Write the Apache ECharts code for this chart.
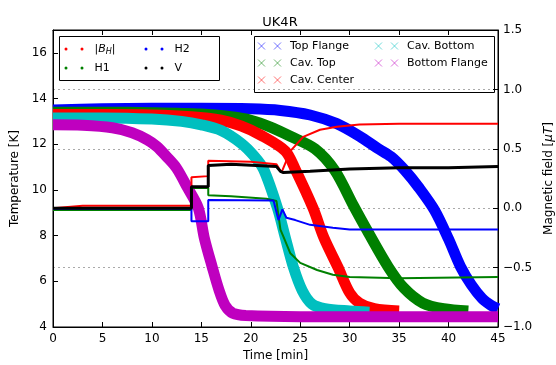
<!DOCTYPE html>
<html>
<head>
<meta charset="utf-8">
<script src="https://cdn.jsdelivr.net/npm/echarts@6/dist/echarts.min.js"></script>
<style>
html,body{margin:0;padding:0;background:#fff}
#main{width:556px;height:365px}
</style>
</head>
<body>
<div id="main"></div>
<script>
// temperatures [K], left axis: time [min] and value per sensor
var tTopFlange = [0, 5, 10, 15, 20, 23, 26, 28.7, 31, 32.8, 34.2, 35.6, 37, 38.6, 40, 41.2, 42.3, 43.4, 44.3, 45];
var topFlange  = [13.5, 13.55, 13.57, 13.57, 13.55, 13.48, 13.28, 12.9, 12.35, 11.83, 11.45, 10.85, 10.1, 9.1, 7.85, 6.65, 5.85, 5.25, 4.95, 4.8];
var tCavTop = [0, 5, 10, 15, 18, 20, 22, 24, 26.5, 28.5, 30.4, 31.8, 33.9, 35.5, 37.4, 39.5, 42];
var cavTop  = [13.4, 13.4, 13.38, 13.32, 13.2, 13.05, 12.75, 12.35, 11.8, 10.85, 9.3, 8.2, 6.63, 5.7, 5.05, 4.8, 4.7];
var tCavCenter = [0, 5, 10, 14, 17, 19, 21, 23.5, 24.5, 26.3, 27.4, 28.8, 30, 31, 32.5, 35];
var cavCenter  = [13.3, 13.3, 13.28, 13.2, 13.05, 12.8, 12.4, 11.7, 10.9, 9.2, 7.9, 6.63, 5.5, 5.05, 4.8, 4.7];
var tCavBottom = [0, 5, 10, 13, 15, 17, 19, 20.3, 21.3, 22.7, 23.5, 24.3, 25.2, 26.2, 27.5, 30, 32];
var cavBottom  = [13.15, 13.15, 13.1, 13.0, 12.85, 12.6, 12.05, 11.5, 10.9, 9.2, 7.9, 6.63, 5.6, 5.0, 4.8, 4.7, 4.65];
var tBotFlange = [0, 3, 6, 8, 9.5, 10.5, 11.5, 12.5, 13.6, 14.7, 15.3, 16.1, 16.8, 17.4, 18.2, 19.5, 25, 45];
var botFlange  = [12.85, 12.83, 12.72, 12.5, 12.2, 11.9, 11.45, 10.95, 10.1, 9.2, 7.9, 6.63, 5.6, 4.95, 4.6, 4.5, 4.45, 4.45];

// magnetic field [uT], right axis
var tBH = [0, 3, 14, 14, 15.7, 15.7, 20, 22.6, 23.1, 24, 25.3, 27, 28.7, 31, 35, 45];
var bH  = [0.0, 0.02, 0.02, 0.26, 0.27, 0.40, 0.39, 0.37, 0.30, 0.48, 0.60, 0.66, 0.685, 0.705, 0.71, 0.71];
var tH1 = [0, 14, 14, 15.7, 15.7, 18, 21.6, 22.6, 23.0, 23.3, 24, 25, 26.7, 28.3, 30, 35, 45];
var h1  = [-0.015, -0.015, 0.17, 0.17, 0.11, 0.10, 0.08, 0.06, -0.18, -0.24, -0.38, -0.46, -0.52, -0.56, -0.58, -0.59, -0.58];
var tH2 = [0, 14, 14, 15.7, 15.7, 22.3, 22.8, 23.2, 23.6, 24.5, 26, 28.3, 30, 35, 45];
var h2  = [-0.005, -0.005, -0.11, -0.11, 0.07, 0.065, -0.1, -0.01, -0.08, -0.1, -0.14, -0.165, -0.18, -0.18, -0.18];
var tV = [0, 14, 14, 15.7, 15.7, 18, 22.6, 23.0, 23.3, 26, 30, 35, 40, 45];
var v  = [0.0, 0.0, 0.18, 0.18, 0.36, 0.37, 0.35, 0.31, 0.30, 0.31, 0.33, 0.34, 0.34, 0.35];

var xTicks = [0, 5, 10, 15, 20, 25, 30, 35, 40, 45];

function pairs(t, y) {
	var out = [];
	for (var i = 0; i < t.length; i++) out.push([t[i], y[i]]);
	return out;
}

var tempSeries = [
	{name: 'Top Flange', t: tTopFlange, y: topFlange, color: '#0000ff', legend: 'rgba(0,0,255,0.55)'},
	{name: 'Cav. Top', t: tCavTop, y: cavTop, color: '#008000', legend: 'rgba(0,128,0,0.55)'},
	{name: 'Cav. Center', t: tCavCenter, y: cavCenter, color: '#ff0000', legend: 'rgba(255,0,0,0.55)'},
	{name: 'Cav. Bottom', t: tCavBottom, y: cavBottom, color: '#00bfbf', legend: 'rgba(0,191,191,0.55)'},
	{name: 'Bottom Flange', t: tBotFlange, y: botFlange, color: '#bf00bf', legend: 'rgba(191,0,191,0.55)'}
];
var fieldSeries = [
	{name: '|B_H|', t: tBH, y: bH, color: '#ff0000', w: 2},
	{name: 'H1', t: tH1, y: h1, color: '#008000', w: 2},
	{name: 'H2', t: tH2, y: h2, color: '#0000ff', w: 2},
	{name: 'V', t: tV, y: v, color: '#000000', w: 3}
];

var series = [];
tempSeries.forEach(function (s) {
	series.push({
		name: s.name, type: 'line', xAxisIndex: 0, yAxisIndex: 0,
		data: pairs(s.t, s.y), smooth: 0.3, showSymbol: false, z: 2,
		color: s.color, lineStyle: {width: 11, color: s.color}
	});
});
fieldSeries.forEach(function (s) {
	series.push({
		name: s.name, type: 'line', xAxisIndex: 0, yAxisIndex: 1,
		data: pairs(s.t, s.y), showSymbol: false, z: 3,
		color: s.color, lineStyle: {width: s.w, color: s.color}
	});
});

var font = 'DejaVu Sans';
var dots = 'path://M0,1.5a1.5,1.5 0 1,0 3,0a1.5,1.5 0 1,0 -3,0zM16,1.5a1.5,1.5 0 1,0 3,0a1.5,1.5 0 1,0 -3,0z';
var crosses = 'path://M0,0L7,7M0,7L7,0M16,0L23,7M16,7L23,0';
var legText = {
	fontFamily: font, fontSize: 11, color: '#000', lineHeight: 14, padding: [0, 0, 0, 6],
	rich: {
		b: {fontFamily: font, fontSize: 11, fontStyle: 'italic', lineHeight: 14},
		h: {fontFamily: font, fontSize: 8, fontStyle: 'italic', padding: [5, 0, 0, 0]}
	}
};
function fmt(name) { return name === '|B_H|' ? '|{b|B}{h|H}|' : name; }

function dotLegend(names, left) {
	return {
		orient: 'vertical', left: left, top: 42, padding: 0, itemGap: 5,
		icon: dots, itemWidth: 19, itemHeight: 3, formatter: fmt,
		textStyle: legText, itemStyle: {borderWidth: 0},
		data: names.map(function (n) {
			var c = fieldSeries.filter(function (s) { return s.name === n; })[0].color;
			return {name: n, itemStyle: {color: c}};
		})
	};
}
function crossLegend(names, left) {
	return {
		orient: 'vertical', left: left, top: 39, padding: 0, itemGap: 3,
		icon: crosses, itemWidth: 23, itemHeight: 7,
		textStyle: {fontFamily: font, fontSize: 11, color: '#000', lineHeight: 14, padding: [0, 0, 0, 4]},
		data: names.map(function (n) {
			var c = tempSeries.filter(function (s) { return s.name === n; })[0].legend;
			return {name: n, itemStyle: {color: c, borderColor: c, borderWidth: 1}};
		})
	};
}

var chart = echarts.init(document.getElementById('main'), null, {renderer: 'canvas'});
chart.setOption({
	animation: false,
	backgroundColor: '#fff',
	title: {
		text: 'UK4R', left: 275, top: 11, textAlign: 'center',
		textStyle: {fontFamily: font, fontSize: 13, fontWeight: 'normal', color: '#000'}
	},
	grid: {left: 53, right: 58, top: 30, bottom: 38, show: true, borderColor: '#000', borderWidth: 1, outerBoundsMode: 'none'},
	legend: [
		dotLegend(['|B_H|', 'H1'], 64.5),
		dotLegend(['H2', 'V'], 144.5),
		crossLegend(['Top Flange', 'Cav. Top', 'Cav. Center'], 257.5),
		crossLegend(['Cav. Bottom', 'Bottom Flange'], 374.5)
	],
	graphic: [
		{type: 'rect', shape: {x: 59.5, y: 36.5, width: 160, height: 44}, style: {fill: 'none', stroke: '#000', lineWidth: 1}, z: 10, silent: true},
		{type: 'rect', shape: {x: 254.5, y: 36.5, width: 240, height: 56}, style: {fill: 'none', stroke: '#000', lineWidth: 1}, z: 10, silent: true}
	],
	xAxis: [{
		type: 'value', min: 0, max: 45, interval: 5, position: 'bottom',
		name: 'Time [min]', nameLocation: 'middle', nameGap: 22,
		nameTextStyle: {fontFamily: font, fontSize: 12, color: '#000'},
		axisLine: {onZero: false, lineStyle: {color: '#000'}},
		axisTick: {inside: true, length: 5, lineStyle: {color: '#000'}},
		axisLabel: {fontFamily: font, fontSize: 12, color: '#000', margin: 6,
			formatter: function (val) { return xTicks.indexOf(val) >= 0 ? String(val) : ''; }},
		splitLine: {show: false}
	}, {
		type: 'value', min: 0, max: 45, interval: 5, position: 'top',
		axisLine: {onZero: false, lineStyle: {color: '#000'}},
		axisTick: {inside: true, length: 5, lineStyle: {color: '#000'}},
		axisLabel: {show: false}, splitLine: {show: false}
	}],
	yAxis: [{
		type: 'value', min: 4, max: 17, interval: 2, position: 'left',
		name: 'Temperature [K]', nameLocation: 'middle', nameGap: 29,
		nameTextStyle: {fontFamily: font, fontSize: 12, color: '#000'},
		axisLine: {show: true, onZero: false, lineStyle: {color: '#000'}},
		axisTick: {inside: true, length: 5, lineStyle: {color: '#000'}},
		axisLabel: {fontFamily: font, fontSize: 12, color: '#000', margin: 6, showMaxLabel: false},
		splitLine: {show: false}
	}, {
		type: 'value', min: -1, max: 1.5, interval: 0.5, position: 'right',
		name: 'Magnetic field [{i|μT}]', nameLocation: 'middle', nameGap: 44,
		nameTextStyle: {fontFamily: font, fontSize: 12, color: '#000',
			rich: {i: {fontFamily: font, fontSize: 12, fontStyle: 'italic', color: '#000'}}},
		axisLine: {show: true, onZero: false, lineStyle: {color: '#000'}},
		axisTick: {inside: true, length: 5, lineStyle: {color: '#000'}},
		axisLabel: {fontFamily: font, fontSize: 12, color: '#000', margin: 5,
			formatter: function (val) { return (val < 0 ? '\u2212' : '') + Math.abs(val).toFixed(1); }},
		splitLine: {show: true, lineStyle: {color: '#aaa', type: [2, 3], width: 1}}
	}],
	series: series
});
</script>
</body>
</html>
